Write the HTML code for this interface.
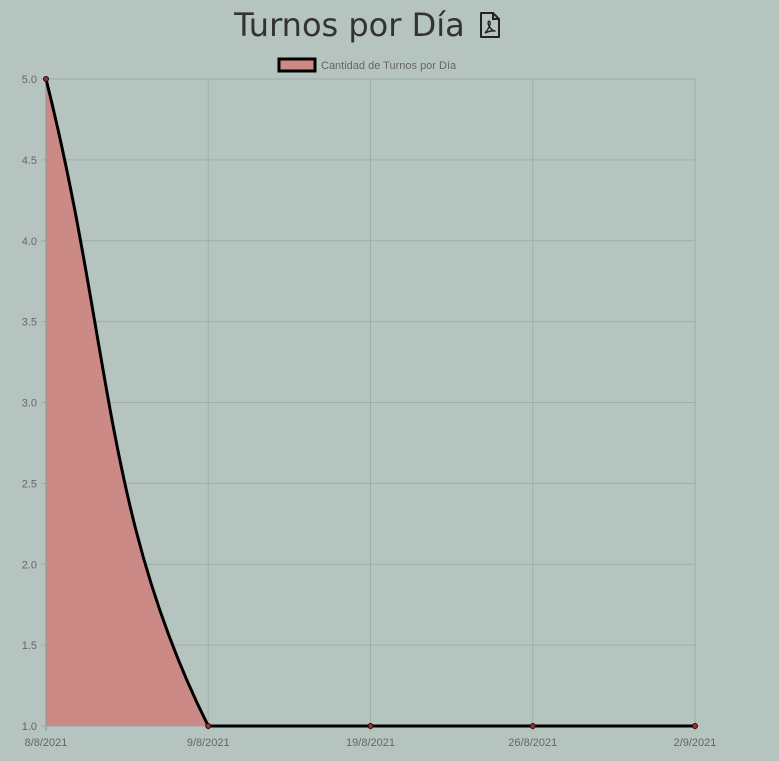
<!DOCTYPE html>
<html><head><meta charset="utf-8"><style>
html,body{margin:0;padding:0;background:#b5c4bf;width:779px;height:761px;overflow:hidden;font-family:"Liberation Sans",sans-serif}
#title{position:absolute;left:-22px;width:779px;top:6px;text-align:center;font-size:32px;color:#333;font-family:"DejaVu Sans","Liberation Sans",sans-serif;letter-spacing:0px}
</style></head><body>
<div id="title">Turnos por Día <svg width="22" height="28" viewBox="0 0 22 28" style="vertical-align:-3px;margin-left:4px"><path d="M2 2h12l6 6v18H2z" fill="none" stroke="#222" stroke-width="2" stroke-linejoin="round"/><path d="M14 2v6h6" fill="none" stroke="#222" stroke-width="2"/><path d="M6 22c3-3 6-9 5-11s-3 0-1 4 5 5 6 5-4-1-10 2z" fill="none" stroke="#222" stroke-width="1.4"/></svg></div>
<svg id="chart" width="779" height="761" style="position:absolute;left:0;top:0"></svg>
<script>
const categories=["8/8/2021","9/8/2021","19/8/2021","26/8/2021","2/9/2021"];
const values=[5,1,1,1,1];
const yTicks=[1.0,1.5,2.0,2.5,3.0,3.5,4.0,4.5,5.0];
const seriesLabel="Cantidad de Turnos por Día";
const NS="http://www.w3.org/2000/svg";
const svg=document.getElementById('chart');
const L=46,R=695,T=79,B=726,yMin=1,yMax=5;
const xs=i=>L+(R-L)*i/(categories.length-1);
const ys=v=>B-(v-yMin)/(yMax-yMin)*(B-T);
function mk(tag,attrs,parent){const e=document.createElementNS(NS,tag);for(const k in attrs)e.setAttribute(k,attrs[k]);(parent||svg).appendChild(e);return e;}
yTicks.forEach(t=>{const y=ys(t);
const g=mk('line',{x1:L-5,x2:R,y1:y,y2:y,stroke:'#9fadaa','stroke-width':1});


const tx=mk('text',{x:L-9,y:y+4,'text-anchor':'end','font-size':11,fill:'#666'});
tx.textContent=t.toFixed(1);


});
categories.forEach((c,i)=>{const x=xs(i);
const g=mk('line',{x1:x,x2:x,y1:T,y2:B+5,stroke:'#9fadaa','stroke-width':1});


const tx=mk('text',{x:x,y:B+20,'text-anchor':'middle','font-size':11,fill:'#666'});
tx.textContent=c;


});
const pts=values.map((v,i)=>({x:xs(i),y:ys(v)}));
const t=0.4;const cps=pts.map((p,i)=>{const pr=pts[i-1]||p,nx=pts[i+1]||p;
const d01=Math.hypot(p.x-pr.x,p.y-pr.y),d12=Math.hypot(nx.x-p.x,nx.y-p.y);
let s01=d01/(d01+d12),s12=d12/(d01+d12);if(isNaN(s01))s01=0;if(isNaN(s12))s12=0;
const fa=t*s01,fb=t*s12;
const c=(v,lo,hi)=>Math.max(lo,Math.min(hi,v));
return {px:c(p.x-fa*(nx.x-pr.x),L,R),py:c(p.y-fa*(nx.y-pr.y),T,B),nx:c(p.x+fb*(nx.x-pr.x),L,R),ny:c(p.y+fb*(nx.y-pr.y),T,B)};});
let d=`M${pts[0].x},${pts[0].y}`;
for(let i=1;i<pts.length;i++){d+=` C${cps[i-1].nx},${cps[i-1].ny} ${cps[i].px},${cps[i].py} ${pts[i].x},${pts[i].y}`;}
const area=mk('path',{d:d+` L${R},${B} L${L},${B} Z`,fill:'#cb8a85'});


mk('line',{x1:L,x2:L,y1:T,y2:B+5,stroke:'#8a9995'});
const line=mk('path',{d:d,fill:'none',stroke:'#000','stroke-width':3});


pts.forEach(p=>{const c=mk('circle',{cx:p.x,cy:p.y,r:2.5,fill:'#8a3a36',stroke:'#300','stroke-width':1});

});
const lb=mk('rect',{x:279,y:59,width:36,height:12,fill:'#cb8a85',stroke:'#000','stroke-width':3});


const lt=mk('text',{x:321,y:69,'font-size':11,fill:'#666'});
lt.textContent=seriesLabel;


</script>
</body></html>
